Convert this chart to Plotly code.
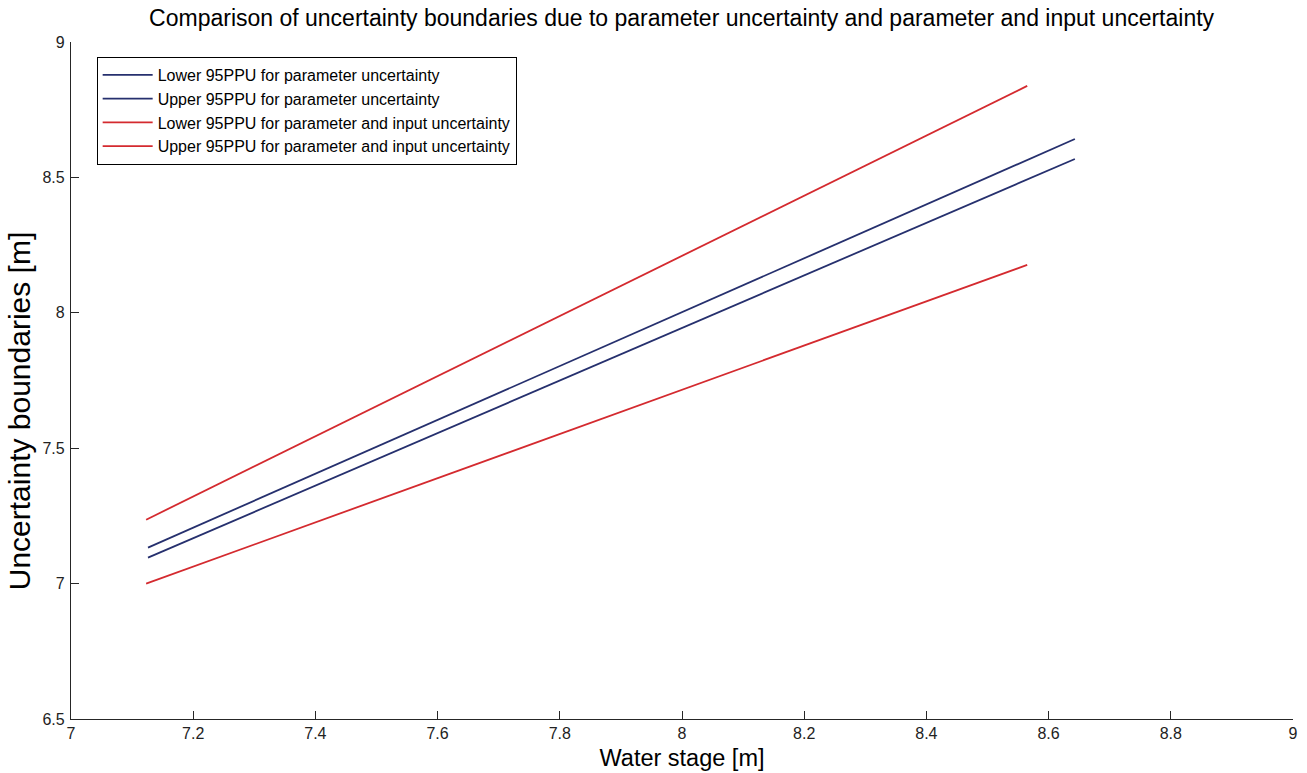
import plotly.graph_objects as go

# Data (water stage [m] vs boundary [m])
x_param = [7.126, 8.643]
lower_param = [7.096, 8.568]
upper_param = [7.133, 8.642]

x_input = [7.123, 8.565]
lower_input = [7.000, 8.177]
upper_input = [7.236, 8.838]

names = [
    "Lower 95PPU for parameter uncertainty",
    "Upper 95PPU for parameter uncertainty",
    "Lower 95PPU for parameter and input uncertainty",
    "Upper 95PPU for parameter and input uncertainty",
]

blue = "#26306e"
red = "#d42a2f"
font = "Liberation Sans, Arial, sans-serif"

fig = go.Figure()
fig.add_trace(go.Scatter(x=x_param, y=lower_param, mode="lines", name=names[0],
                         line=dict(color=blue, width=1.8)))
fig.add_trace(go.Scatter(x=x_param, y=upper_param, mode="lines", name=names[1],
                         line=dict(color=blue, width=1.8)))
fig.add_trace(go.Scatter(x=x_input, y=lower_input, mode="lines", name=names[2],
                         line=dict(color=red, width=1.8)))
fig.add_trace(go.Scatter(x=x_input, y=upper_input, mode="lines", name=names[3],
                         line=dict(color=red, width=1.8)))

axis_common = dict(
    showgrid=False, zeroline=False, showline=True, linecolor="#262626", linewidth=1.3,
    ticks="inside", ticklen=8, tickcolor="#262626", tickwidth=1.3, mirror=False,
    tickfont=dict(family=font, size=16, color="#222222"), automargin=False,
)

fig.update_layout(
    width=1307, height=773,
    margin=dict(l=71, r=14, t=42, b=54),
    paper_bgcolor="white", plot_bgcolor="white",
    title=dict(text="Comparison of uncertainty boundaries due to parameter uncertainty and parameter and input uncertainty",
               x=0.5215, xanchor="center", y=0.977, yanchor="middle",
               font=dict(family=font, size=23, color="black")),
    xaxis=dict(range=[7, 9], tickmode="array",
               tickvals=[7, 7.2, 7.4, 7.6, 7.8, 8, 8.2, 8.4, 8.6, 8.8, 9],
               ticktext=["7", "7.2", "7.4", "7.6", "7.8", "8", "8.2", "8.4", "8.6", "8.8", "9"],
               title=dict(text="Water stage [m]", font=dict(family=font, size=23.5, color="black"), standoff=8),
               **axis_common),
    yaxis=dict(range=[6.5, 9], tickmode="array",
               tickvals=[6.5, 7, 7.5, 8, 8.5, 9],
               ticktext=["6.5", "7", "7.5", "8", "8.5", "9"],
               ticklabelstandoff=2,
               **axis_common),
    legend=dict(x=0.021, y=0.978, xanchor="left", yanchor="top",
                bgcolor="white", bordercolor="black", borderwidth=1,
                font=dict(family=font, size=16, color="black"),
                itemwidth=50, tracegroupgap=0),
    showlegend=True,
    annotations=[dict(text="Uncertainty boundaries [m]", textangle=-90,
                      xref="paper", yref="paper", x=-0.0415, y=0.455,
                      xanchor="center", yanchor="middle", showarrow=False,
                      font=dict(family=font, size=30, color="black"))],
)

fig.write_html("out.html")
